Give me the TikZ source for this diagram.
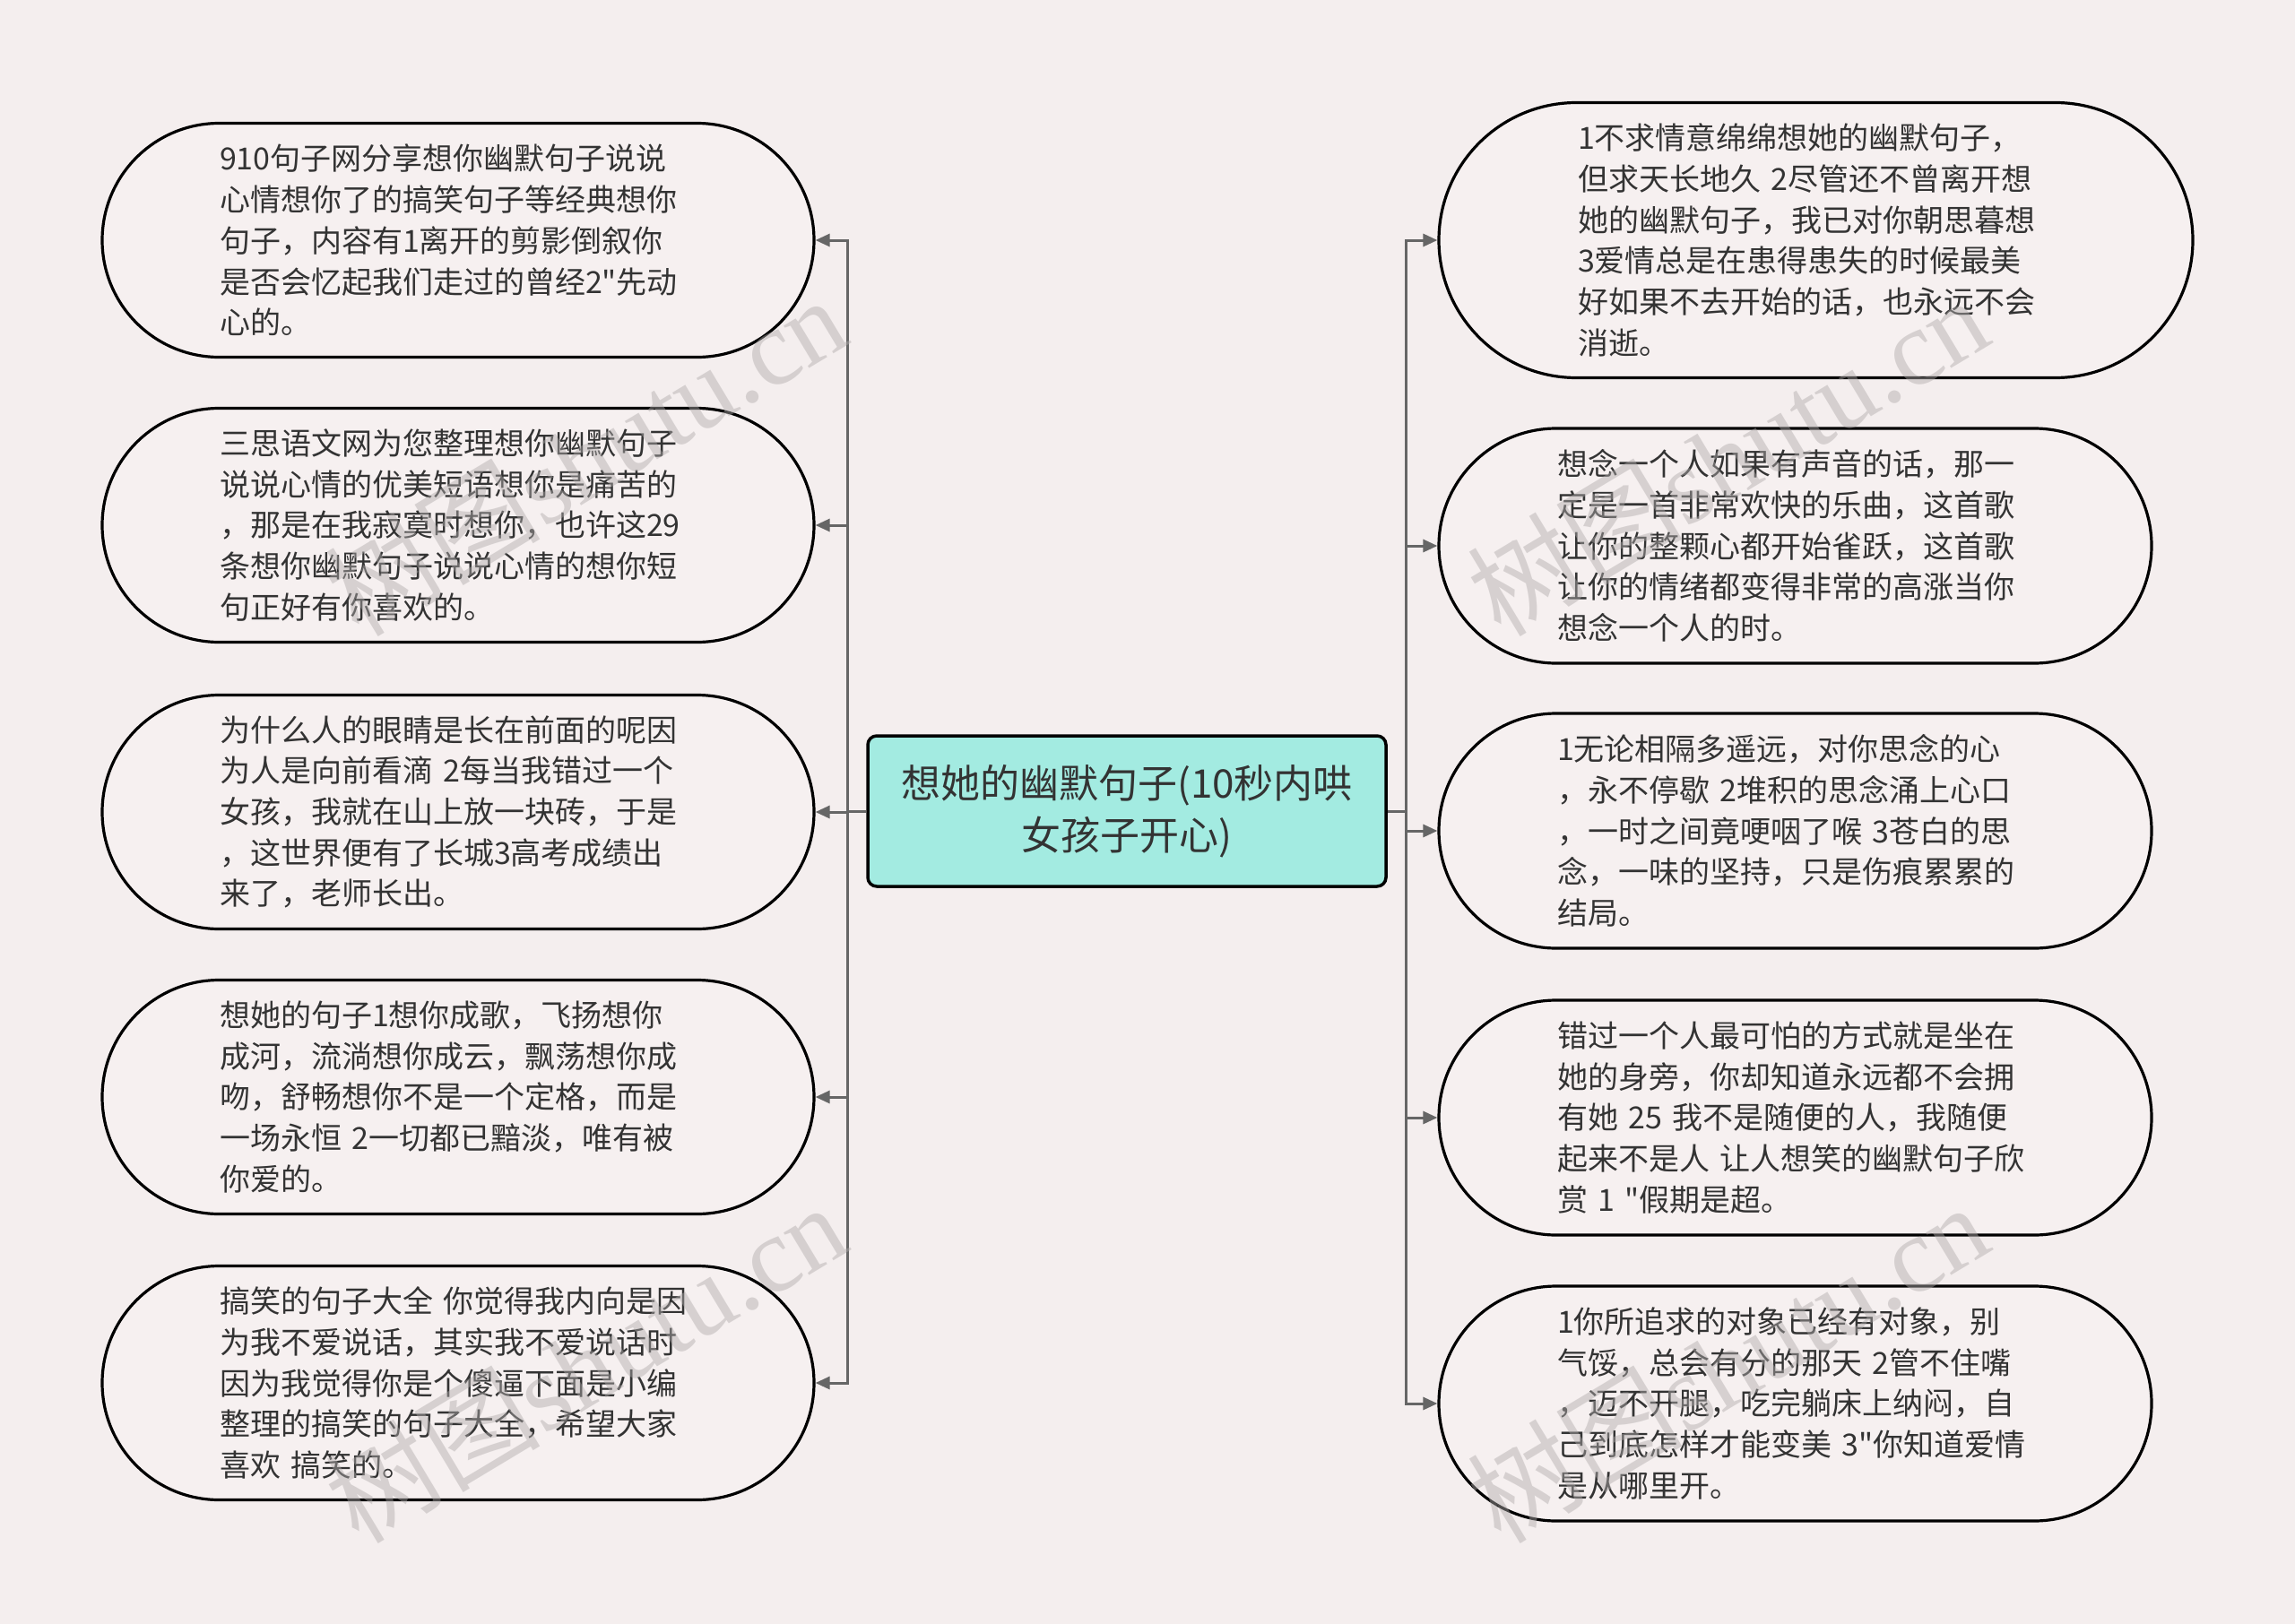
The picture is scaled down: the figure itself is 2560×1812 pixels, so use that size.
\documentclass[tikz,border=0pt]{standalone}
\usepackage{fontspec}
\newfontfamily\cjkfont{Noto Sans CJK SC}
\setmainfont{Noto Sans CJK SC}
\newfontfamily\wmserif{Liberation Serif}
\usetikzlibrary{arrows.meta}
\definecolor{bgc}{HTML}{F4EEEE}
\definecolor{nodefill}{HTML}{F6F0F0}
\definecolor{centerfill}{HTML}{A3EBE1}
\definecolor{txt}{HTML}{333333}
\definecolor{linec}{HTML}{666666}
\definecolor{wmc}{HTML}{B0ABAB}
\tikzset{
  leaf/.style={draw=black, line width=3.2pt, fill=nodefill, rounded corners=#1,
    text=txt, align=left, inner sep=0pt,
    font=\cjkfont\fontsize{34}{45.7}\selectfont},
  centerbox/.style={draw=black, line width=3.5pt, fill=centerfill, rounded corners=10pt,
    text=txt, align=center, inner sep=0pt, minimum width=578pt, minimum height=168pt,
    font=\cjkfont\fontsize{44}{58}\selectfont},
  conn/.style={draw=linec, line width=3pt},
  arr/.style={conn, -{Triangle[length=16pt,width=14pt]}},
  wm/.style={text=wmc, opacity=0.45, rotate=31, font=\cjkfont\fontsize{120}{120}\selectfont}
}
\begin{document}
\begin{tikzpicture}[x=1pt,y=-1pt]
\useasboundingbox[fill=bgc] (0,0) rectangle (2560,1812);

\node[centerbox] (c) at (1257,905) {想她的幽默句子(10秒内哄\\女孩子开心)};

% left nodes
\node[leaf=130.5pt, minimum width=794pt, minimum height=261pt, text width=532pt] (L1) at (511,268)
{910句子网分享想你幽默句子说说\\心情想你了的搞笑句子等经典想你\\句子，内容有1离开的剪影倒叙你\\是否会忆起我们走过的曾经2"先动\\心的。};
\node[leaf=130.5pt, minimum width=794pt, minimum height=261pt, text width=532pt] (L2) at (511,586)
{三思语文网为您整理想你幽默句子\\说说心情的优美短语想你是痛苦的\\，那是在我寂寞时想你，也许这29\\条想你幽默句子说说心情的想你短\\句正好有你喜欢的。};
\node[leaf=130.5pt, minimum width=794pt, minimum height=261pt, text width=532pt] (L3) at (511,906)
{为什么人的眼睛是长在前面的呢因\\为人是向前看滴 2每当我错过一个\\女孩，我就在山上放一块砖，于是\\，这世界便有了长城3高考成绩出\\来了，老师长出。};
\node[leaf=130.5pt, minimum width=794pt, minimum height=261pt, text width=532pt] (L4) at (511,1224)
{想她的句子1想你成歌，飞扬想你\\成河，流淌想你成云，飘荡想你成\\吻，舒畅想你不是一个定格，而是\\一场永恒 2一切都已黯淡，唯有被\\你爱的。};
\node[leaf=130.5pt, minimum width=794pt, minimum height=261pt, text width=532pt] (L5) at (511,1543)
{搞笑的句子大全 你觉得我内向是因\\为我不爱说话，其实我不爱说话时\\因为我觉得你是个傻逼下面是小编\\整理的搞笑的句子大全，希望大家\\喜欢 搞笑的。};

% right nodes
\node[leaf=153.5pt, minimum width=841pt, minimum height=307pt, text width=531pt] (R1) at (2025.5,268)
{1不求情意绵绵想她的幽默句子，\\但求天长地久 2尽管还不曾离开想\\她的幽默句子，我已对你朝思暮想\\3爱情总是在患得患失的时候最美\\好如果不去开始的话，也永远不会\\消逝。};
\node[leaf=131pt, minimum width=795pt, minimum height=262pt, text width=531pt] (R2) at (2002.5,609)
{想念一个人如果有声音的话，那一\\定是一首非常欢快的乐曲，这首歌\\让你的整颗心都开始雀跃，这首歌\\让你的情绪都变得非常的高涨当你\\想念一个人的时。};
\node[leaf=131pt, minimum width=795pt, minimum height=262pt, text width=531pt] (R3) at (2002.5,927)
{1无论相隔多遥远，对你思念的心\\，永不停歇 2堆积的思念涌上心口\\，一时之间竟哽咽了喉 3苍白的思\\念，一味的坚持，只是伤痕累累的\\结局。};
\node[leaf=131pt, minimum width=795pt, minimum height=262pt, text width=531pt] (R4) at (2002.5,1247)
{错过一个人最可怕的方式就是坐在\\她的身旁，你却知道永远都不会拥\\有她 25 我不是随便的人，我随便\\起来不是人 让人想笑的幽默句子欣\\赏 1 "假期是超。};
\node[leaf=131pt, minimum width=795pt, minimum height=262pt, text width=531pt] (R5) at (2002.5,1566)
{1你所追求的对象已经有对象，别\\气馁，总会有分的那天 2管不住嘴\\，迈不开腿，吃完躺床上纳闷，自\\己到底怎样才能变美 3"你知道爱情\\是从哪里开。};

% connectors
\foreach \n in {L1,L2,L3,L4,L5}{
  \draw[arr] (c.west) -- ++(-21,0) |- (\n.east);
}
\foreach \n in {R1,R2,R3,R4,R5}{
  \draw[arr] (c.east) -- ++(21,0) |- (\n.west);
}

% watermarks
\node[wm] (w1) at (653,508) {树图{\wmserif shutu.cn}};
\node[wm] (w2) at (1927,508) {树图{\wmserif shutu.cn}};
\node[wm] (w3) at (653,1520) {树图{\wmserif shutu.cn}};
\node[wm] (w4) at (1927,1520) {树图{\wmserif shutu.cn}};
\end{tikzpicture}
\end{document}
